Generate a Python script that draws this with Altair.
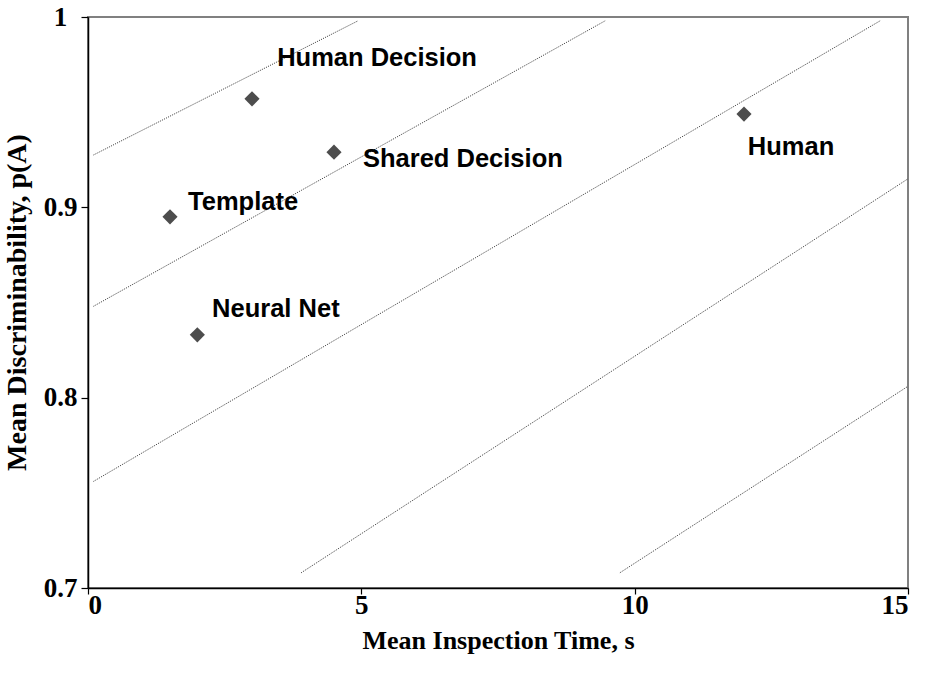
import altair as alt
import pandas as pd

# Inspection strategies: mean inspection time (s) and mean discriminability p(A)
names = ["Human Decision", "Shared Decision", "Template", "Neural Net", "Human"]
time_s = [3.0, 4.5, 1.5, 2.0, 12.0]
p_a = [0.957, 0.929, 0.895, 0.833, 0.949]

# Label anchor points (left edge, vertical centre) in data units
label_x = [3.46, 5.03, 1.83, 2.27, 12.07]
label_y = [0.9784, 0.9253, 0.9026, 0.8468, 0.9316]

# Dotted iso-performance lines, one pair of end points per line
iso_id = [1, 1, 2, 2, 3, 3, 4, 4, 5, 5]
iso_x = [0.1, 4.94, 0.1, 9.46, 0.1, 14.49, 3.9, 15.0, 9.73, 15.0]
iso_y = [0.9275, 0.998, 0.848, 0.998, 0.756, 0.998, 0.708, 0.915, 0.708, 0.806]

pts = pd.DataFrame({"name": names, "t": time_s, "p": p_a, "lx": label_x, "ly": label_y})
iso = pd.DataFrame({"id": iso_id, "t": iso_x, "p": iso_y})

x_scale = alt.Scale(domain=[0, 15], nice=False, zero=False)
y_scale = alt.Scale(domain=[0.7, 1.0], nice=False, zero=False)

axis_style = dict(
    labelFont="Liberation Serif",
    labelFontWeight="bold",
    labelFontSize=27,
    labelColor="#000000",
    titleFont="Liberation Serif",
    titleFontWeight="bold",
    titleColor="#000000",
    domainColor="#000000",
    domainWidth=1.5,
    tickColor="#000000",
    tickWidth=1.2,
    grid=False,
)

x_axis = alt.Axis(
    title="Mean Inspection Time, s",
    values=[0, 5, 10, 15],
    format="d",
    tickSize=6,
    labelPadding=11,
    labelBaseline="middle",
    titleY=52,
    titleBaseline="middle",
    titleFontSize=26,
    **axis_style,
)
y_axis = alt.Axis(
    title="Mean Discriminability, p(A)",
    values=[0.7, 0.8, 0.9, 1.0],
    labelExpr="datum.value == 1 ? '1' : format(datum.value, '.1f')",
    tickSize=7,
    labelPadding=21,
    labelAlign="center",
    titleX=-71,
    titleY=285,
    titleAngle=-90,
    titleAlign="center",
    titleBaseline="middle",
    titleFontSize=28,
    **axis_style,
)

lines = alt.Chart(iso).mark_line(
    color="#333333", strokeWidth=1, strokeDash=[1, 1.2]
).encode(
    x=alt.X("t:Q", scale=x_scale, axis=x_axis),
    y=alt.Y("p:Q", scale=y_scale, axis=y_axis),
    detail="id:N",
)

points = alt.Chart(pts).mark_point(
    shape="diamond", filled=True, color="#4d4d4d", size=230, opacity=1
).encode(
    x=alt.X("t:Q", scale=x_scale),
    y=alt.Y("p:Q", scale=y_scale),
)

labels = alt.Chart(pts).mark_text(
    align="left", baseline="middle", font="Liberation Sans",
    fontWeight="bold", fontSize=25.5, color="#000000",
).encode(
    x=alt.X("lx:Q", scale=x_scale),
    y=alt.Y("ly:Q", scale=y_scale),
    text="name:N",
)

chart = (
    alt.layer(lines, points, labels)
    .properties(
        width=820,
        height=571,
        autosize=alt.AutoSizeParams(type="none"),
        padding={"left": 88, "top": 17, "right": 19, "bottom": 97},
        background="white",
    )
    .configure_view(stroke="#808080", strokeWidth=2)
)

chart.save("out.html", embed_options={"renderer": "svg", "actions": False})
